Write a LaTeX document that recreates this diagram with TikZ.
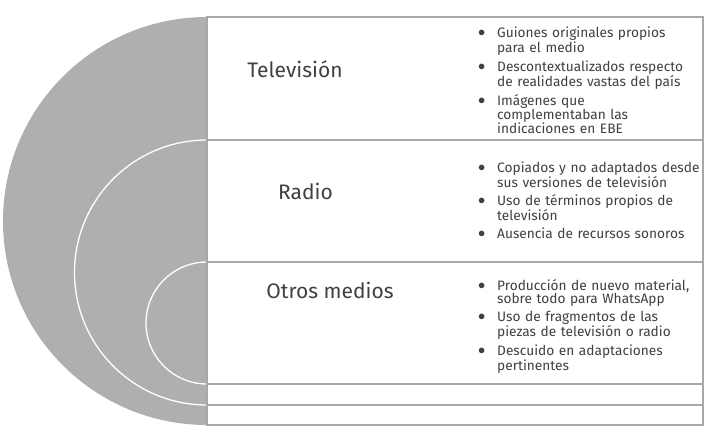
\documentclass[tikz,border=0pt]{standalone}
\usepackage{fontspec}
\setmainfont{Fira Sans}
\usepackage{enumitem}
\usepackage{xcolor}
\usetikzlibrary{positioning}
\definecolor{discgray}{HTML}{AEAFB1}
\definecolor{rulegray}{HTML}{A7A8AA}
\definecolor{inkgray}{HTML}{404040}
\newlist{puntos}{itemize}{1}
\setlist[puntos]{label=\raisebox{1pt}{$\bullet$}, leftmargin=16pt, labelsep=12pt, itemsep=4.5pt,
  topsep=0pt, parsep=0pt, partopsep=0pt}

\begin{document}
\begin{tikzpicture}[x=1pt, y=-1pt,
  box/.style={draw=rulegray, line width=1.3pt},
  ring/.style={draw=white, line width=1.3pt},
  medio/.style={font=\fontsize{21}{24}\selectfont, text=inkgray, inner sep=0pt, anchor=base},
  lista/.style={font=\fontsize{13.7}{13.6}\selectfont, text=inkgray, inner sep=0pt,
                anchor=west, text width=250pt, align=left}]

\useasboundingbox (0,0) rectangle (709,433);

% ---- the nested half discs ----------------------------------------------
\fill[discgray] (207,17) arc[start angle=270, end angle=90, radius=204];
\draw[ring] (207,140) arc[start angle=270, end angle=90, radius=132.5];
\draw[ring] (207,262) arc[start angle=270, end angle=90, radius=61];

% ---- the rows ------------------------------------------------------------
\draw[box, fill=white] (207,17) rectangle (703,425);
\foreach \y in {140,262,384,405} \draw[box] (207,\y) -- (703,\y);

\node[medio] (tv) at (295,78) {Televisión};
\node[medio] (radio) at (305.5,199) {Radio};
\node[medio] (otros) at (330,298) {Otros medios};

\node[lista] (tvl) at (481,79) {\begin{puntos}
  \item Guiones originales propios\\ para el medio
  \item Descontextualizados respecto\\ de realidades vastas del país
  \item Imágenes que\\ complementaban las\\ indicaciones en EBE
\end{puntos}};
\node[lista] (radiol) at (481,199) {\begin{puntos}
  \item Copiados y no adaptados desde\\ sus versiones de televisión
  \item Uso de términos propios de\\ televisión
  \item Ausencia de recursos sonoros
\end{puntos}};
\node[lista] (otrosl) at (481,325) {\begin{puntos}
  \item Producción de nuevo material,\\ sobre todo para WhatsApp
  \item Uso de fragmentos de las\\ piezas de televisión o radio
  \item Descuido en adaptaciones\\ pertinentes
\end{puntos}};

\end{tikzpicture}
\end{document}
